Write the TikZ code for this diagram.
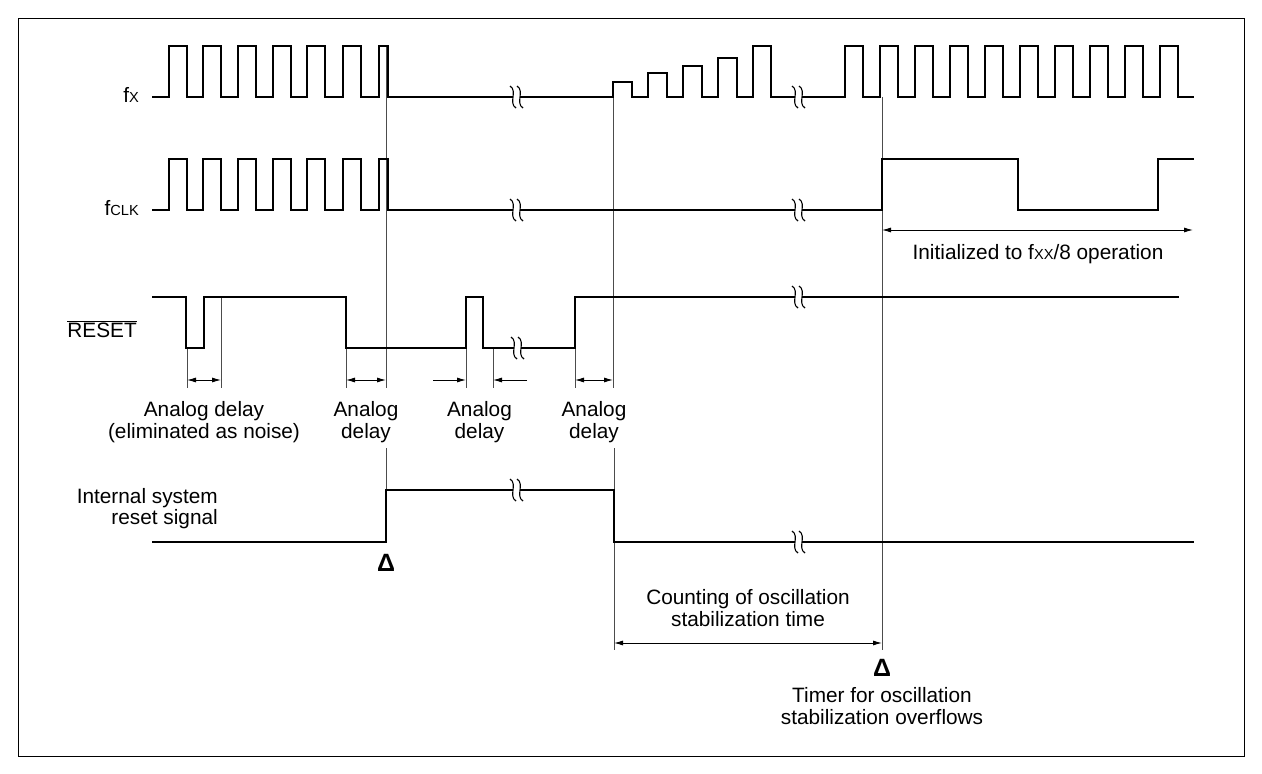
\documentclass[tikz,border=0pt]{standalone}
\usepackage{fontspec}
\setmainfont{Liberation Sans}
\usetikzlibrary{arrows.meta}
\newcommand\tdfont{\fontsize{20.8}{22}\selectfont}
\newcommand\smcap[1]{{\fontsize{14.6}{16}\selectfont #1}}
\begin{document}
\begin{tikzpicture}[x=1pt,y=-1pt,
  wave/.style={line width=2.3pt, line join=miter, line cap=rect},
  guide/.style={line width=0.9pt, draw=black!70},
  dimline/.style={line width=0.9pt, {Latex[length=9pt,width=5pt]}-{Latex[length=9pt,width=5pt]}},
  oneway/.style={line width=0.9pt, -{Latex[length=9pt,width=5pt]}},
  lbl/.style={font=\tdfont, inner sep=0pt},
  tri/.style={font=\fontsize{25}{26}\selectfont\bfseries, inner sep=0pt},
  brk/.pic={
    \fill[white] (-3.2,-2.5) rectangle (3.8,2.5);
    \draw[line width=1.1pt] (-6,-11) .. controls (2,-6) and (-8,6) .. (0,11);
    \draw[line width=1.1pt] (1,-11) .. controls (9,-6) and (-1,6) .. (7,11);
  }]
\useasboundingbox (0,0) rectangle (1262,774);
\draw[line width=1pt] (18,18) rectangle (1244,756);

% guide lines
\draw[guide] (187,348) -- (187,388);
\draw[guide] (221,297) -- (221,388);
\draw[guide] (346,348) -- (346,388);
\draw[guide] (386,46) -- (386,388);
\draw[guide] (386,448) -- (386,490);
\draw[guide] (466,297) -- (466,388);
\draw[guide] (493,348) -- (493,388);
\draw[guide] (575,348) -- (575,388);
\draw[guide] (613,97) -- (613,388);
\draw[guide] (614,448) -- (614,650);
\draw[guide] (882,97) -- (882,650);

% fx
\draw[wave] (153,97)
  foreach \r in {169,203,238,273,307,343} { -- (\r,97) -- (\r,46) -- (\r+18,46) -- (\r+18,97) }
  -- (379,97) -- (379,46) -- (388,46) -- (388,97)
  -- (613,97) -- (613,82) -- (632,82) -- (632,97)
  -- (648,97) -- (648,73) -- (667,73) -- (667,97)
  -- (683,97) -- (683,66) -- (702,66) -- (702,97)
  -- (718,97) -- (718,58) -- (737,58) -- (737,97)
  -- (753,97) -- (753,46) -- (771,46) -- (771,97)
  foreach \r in {845,880,915,950,985,1020,1055,1090,1125,1160} { -- (\r,97) -- (\r,46) -- (\r+18,46) -- (\r+18,97) }
  -- (1193,97);
\pic at (516,97) {brk};
\pic at (798,97) {brk};

% fclk
\draw[wave] (153,210)
  foreach \r in {169,203,238,273,307,343} { -- (\r,210) -- (\r,159) -- (\r+18,159) -- (\r+18,210) }
  -- (379,210) -- (379,159) -- (388,159) -- (388,210)
  -- (882,210) -- (882,159) -- (1018,159) -- (1018,210) -- (1158,210) -- (1158,159) -- (1193,159);
\pic at (516,210) {brk};
\pic at (798,210) {brk};

% RESET
\draw[wave] (153,297) -- (186,297) -- (186,348) -- (204,348) -- (204,297) -- (346,297) -- (346,348)
  -- (466,348) -- (466,297) -- (483,297) -- (483,348) -- (575,348) -- (575,297) -- (1178,297);
\pic at (517,348) {brk};
\pic at (798,297) {brk};

% internal reset
\draw[wave] (153,542) -- (386,542) -- (386,490) -- (614,490) -- (614,542) -- (1193,542);
\pic at (516,490) {brk};
\pic at (798,542) {brk};

% dimension arrows
\draw[dimline] (187,380) -- (221,380);
\draw[dimline] (346,380) -- (386,380);
\draw[oneway] (433,380) -- (466,380);
\draw[oneway] (527,380) -- (493,380);
\draw[dimline] (575,380) -- (613,380);
\draw[dimline] (882,230) -- (1193,230);
\draw[dimline] (614,643) -- (882,643);

% labels
\node[lbl, anchor=base east] (fx) at (139,102) {f\smcap{X}};
\node[lbl, anchor=base east] (fclk) at (139,215) {f\smcap{CLK}};
\node[lbl, anchor=base east] (rst) at (137,337) {$\overline{\hbox{\tdfont RESET}}$};
\node[lbl, anchor=base] (init) at (1038,259) {Initialized to f\smcap{XX}/8 operation};

\node[lbl, anchor=base] (ad1a) at (204,416.5) {Analog delay};
\node[lbl, anchor=base] (ad1b) at (204,438) {(eliminated as noise)};
\node[lbl, anchor=base] (ad2a) at (366,416.5) {Analog};
\node[lbl, anchor=base] (ad2b) at (366,438) {delay};
\node[lbl, anchor=base] (ad3a) at (479.5,416.5) {Analog};
\node[lbl, anchor=base] (ad3b) at (479.5,438) {delay};
\node[lbl, anchor=base] (ad4a) at (594,416.5) {Analog};
\node[lbl, anchor=base] (ad4b) at (594,438) {delay};

\node[lbl, anchor=base east] (isr1) at (218,503) {Internal system};
\node[lbl, anchor=base east] (isr2) at (218,524) {reset signal};

\node[lbl, anchor=base] (cnt1) at (748,604) {Counting of oscillation};
\node[lbl, anchor=base] (cnt2) at (748,626) {stabilization time};

\node[tri] (tri1) at (386,563) {Δ};
\node[tri] (tri2) at (882,668) {Δ};

\node[lbl, anchor=base] (tmr1) at (882,702) {Timer for oscillation};
\node[lbl, anchor=base] (tmr2) at (882,724) {stabilization overflows};
\end{tikzpicture}
\end{document}
